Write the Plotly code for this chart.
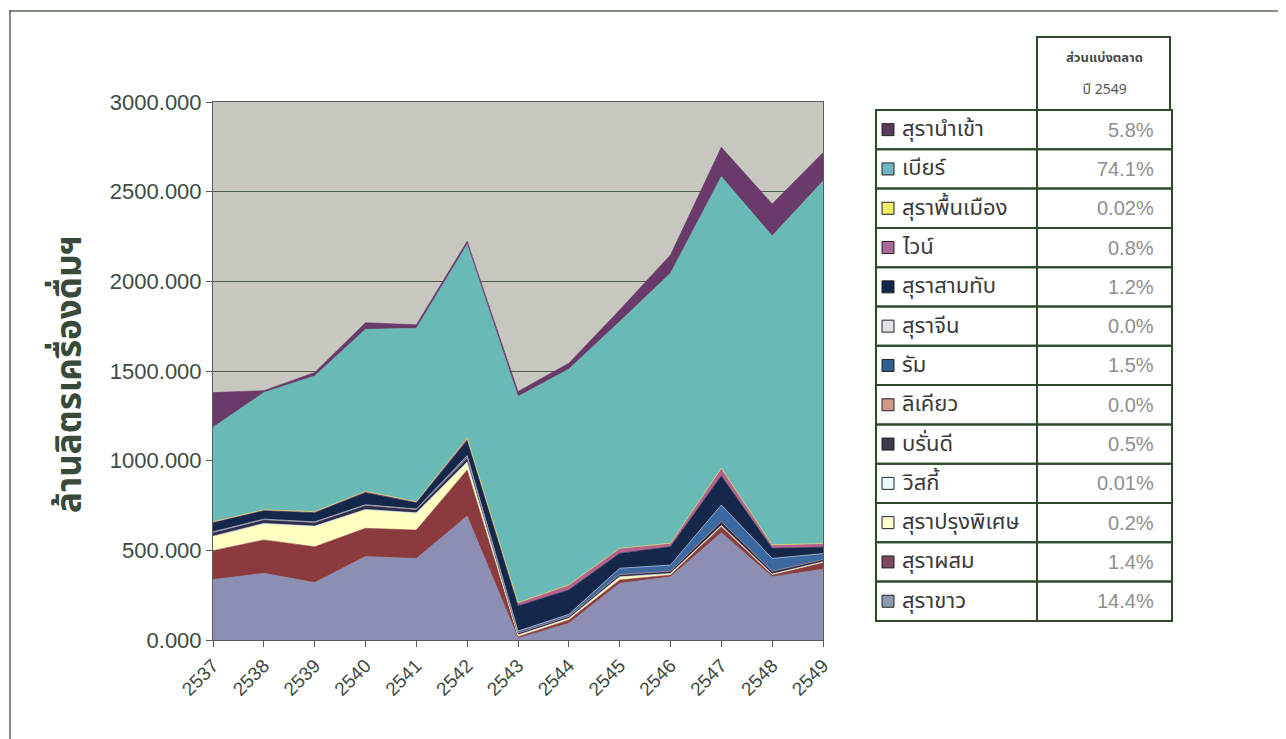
import plotly.graph_objects as go

years = [2537, 2538, 2539, 2540, 2541, 2542, 2543, 2544, 2545, 2546, 2547, 2548, 2549]

# stacked bottom -> top
series_names = ["สุราขาว", "สุราผสม", "สุราปรุงพิเศษ", "วิสกี้", "บรั่นดี", "ลิเคียว",
                "รัม", "สุราจีน", "สุราสามทับ", "ไวน์", "สุราพื้นเมือง", "เบียร์", "สุรานำเข้า"]

white_spirit = [338, 372, 320, 465, 455, 691, 10, 93, 316, 353, 598, 353, 395]
mixed_spirit = [160, 186, 200, 158, 158, 257, 8, 19, 19, 9, 34, 9, 36]
special_spirit = [78, 89, 112, 102, 93, 37, 8, 7, 15, 8, 6, 5, 5]
whisky = [3, 3, 3, 3, 3, 8, 2, 2, 2, 1, 1, 1, 0.3]
brandy = [20, 20, 20, 22, 18, 20, 10, 10, 12, 12, 20, 14, 12]
liqueur = [1, 1, 1, 1, 1, 2, 1, 1, 1, 1, 2, 1, 0.5]
rum = [3, 3, 3, 3, 3, 10, 10, 10, 35, 34, 92, 72, 33]
chinese = [0, 0, 0, 0, 0, 3, 1, 1, 0, 0, 0, 0, 0]
triple = [51, 47, 51, 67, 35, 84, 140, 136, 83, 102, 162, 56, 36]
wine = [5, 5, 5, 8, 5, 15, 18, 28, 28, 19, 42, 19, 20]
local_spirit = [0.5, 0.5, 0.5, 0.5, 0.5, 0.5, 0.5, 0.5, 0.5, 0.5, 2, 0.5, 0.5]
beer = [527, 653, 757, 903, 967, 1078, 1149, 1203, 1264, 1506, 1625, 1723, 2021]
imported = [193, 11, 19, 37, 19, 18, 28, 33, 65, 102, 163, 178, 158]

series_values = [white_spirit, mixed_spirit, special_spirit, whisky, brandy, liqueur,
                 rum, chinese, triple, wine, local_spirit, beer, imported]

series_colors = ["#8c8fb3", "#8b3b3d", "#ffffc2", "#e4f6f6", "#2e2e4c", "#d39484",
                 "#3c69a2", "#dcdce4", "#13284b", "#b4628f", "#eeee5a", "#69b9b6", "#6a3a6a"]

swatch_colors = ["#8c9ab0", "#7a4a60", "#ffffd0", "#e8fafa", "#3a3a4a", "#d09a88",
                 "#2f6090", "#e0e0e6", "#10284a", "#a86a9a", "#eeee66", "#6fb8c8", "#5a3a5a"]

share_2549 = ["14.4%", "1.4%", "0.2%", "0.01%", "0.5%", "0.0%", "1.5%", "0.0%",
              "1.2%", "0.8%", "0.02%", "74.1%", "5.8%"]

y_ticks = [0, 500, 1000, 1500, 2000, 2500, 3000]
y_title = "ล้านลิตรเครื่องดื่มฯ"
table_header = ["ส่วนแบ่งตลาด", "ปี 2549"]

OFF = 8  # page body margin
W, H = 1286 - OFF, 739 - OFF
PL, PR, PT, PB = 213 - OFF, 823 - OFF, 102 - OFF, 640 - OFF


def px(x):
    return (x - OFF - PL) / (PR - PL)


def py(y):
    return (PB - (y - OFF)) / (PB - PT)


fig = go.Figure()
for name, vals, col in zip(series_names, series_values, series_colors):
    fig.add_trace(go.Scatter(
        x=years, y=vals, name=name, stackgroup="one", mode="lines",
        line=dict(width=0.6, color=col), fillcolor=col, showlegend=False,
    ))

thai_font = "Noto Sans Thai, Noto Sans, DejaVu Sans, Liberation Sans, sans-serif"
axis_font = dict(family="Liberation Sans, Arial, sans-serif", size=22, color="#3e4a3e")

fig.update_layout(
    width=W, height=H,
    margin=dict(l=PL, r=W - PR, t=PT, b=H - PB),
    paper_bgcolor="white",
    plot_bgcolor="#c7c7bf",
    xaxis=dict(
        range=[years[0], years[-1]], tickmode="array", tickvals=years,
        ticktext=[str(y) for y in years], tickangle=-45,
        tickfont=dict(family="Liberation Sans, Arial, sans-serif", size=19, color="#3e4a3e"),
        showgrid=False, showline=True, linecolor="#5a5a5a", linewidth=1, mirror=True,
        ticks="outside", ticklen=6, tickcolor="#5a5a5a", zeroline=False,
    ),
    yaxis=dict(
        range=[0, 3000], tickmode="array", tickvals=y_ticks,
        ticktext=[f"{v:.3f}" for v in y_ticks],
        tickfont=axis_font,
        showgrid=True, gridcolor="#4f5a4f", gridwidth=1,
        showline=True, linecolor="#5a5a5a", linewidth=1, mirror=True,
        ticks="outside", ticklen=6, tickcolor="#5a5a5a", zeroline=False,
    ),
)

shapes = []
annotations = []

# outer frame lines (top and left)
shapes.append(dict(type="line", xref="paper", yref="paper", x0=px(9), x1=px(1300),
                   y0=py(11), y1=py(11), line=dict(color="#5a6a55", width=1.5)))
shapes.append(dict(type="line", xref="paper", yref="paper", x0=px(10), x1=px(10),
                   y0=py(10), y1=py(760), line=dict(color="#5a6a55", width=1.5)))

# y-axis title
annotations.append(dict(
    text=f"<b>{y_title}</b>", xref="paper", yref="paper", x=px(70), y=py(374),
    textangle=-90, showarrow=False, xanchor="center", yanchor="middle",
    font=dict(family=thai_font, size=35, color="#3a4a3a"),
))

# table
border = dict(color="#2d4a2d", width=2)
col0, col1, col2 = 876, 1037, 1172
row_top, row_h = 110, 39.3
n = len(series_names)
hx = (col1 + col2) / 2
# header cell
shapes.append(dict(type="rect", xref="paper", yref="paper", x0=px(col1), x1=px(col2 - 2),
                   y0=py(37), y1=py(row_top), line=border, fillcolor="rgba(0,0,0,0)"))
annotations.append(dict(text=f"<b>{table_header[0]}</b>", xref="paper", yref="paper",
                        x=px(hx), y=py(58), xanchor="center", yanchor="middle",
                        showarrow=False,
                        font=dict(family=thai_font, size=13, color="#4a4a4a")))
annotations.append(dict(text=table_header[1], xref="paper", yref="paper",
                        x=px(hx), y=py(90), xanchor="center", yanchor="middle",
                        showarrow=False,
                        font=dict(family=thai_font, size=14, color="#555555")))

for i in range(n):
    idx = n - 1 - i  # table lists top-of-stack first
    y0 = row_top + i * row_h
    y1 = y0 + row_h
    ym = (y0 + y1) / 2
    shapes.append(dict(type="rect", xref="paper", yref="paper", x0=px(col0), x1=px(col1),
                       y0=py(y0), y1=py(y1), line=border, fillcolor="rgba(0,0,0,0)"))
    shapes.append(dict(type="rect", xref="paper", yref="paper", x0=px(col1), x1=px(col2),
                       y0=py(y0), y1=py(y1), line=border, fillcolor="rgba(0,0,0,0)"))
    shapes.append(dict(type="rect", xref="paper", yref="paper", x0=px(882), x1=px(894),
                       y0=py(ym - 6), y1=py(ym + 6), line=dict(color="#222222", width=1),
                       fillcolor=swatch_colors[idx]))
    annotations.append(dict(text=series_names[idx], xref="paper", yref="paper",
                            x=px(900), y=py(ym), xanchor="left", yanchor="middle",
                            showarrow=False,
                            font=dict(family=thai_font, size=22, color="#3a3a3a")))
    annotations.append(dict(text=share_2549[idx], xref="paper", yref="paper",
                            x=px(1156), y=py(ym), xanchor="right", yanchor="middle",
                            showarrow=False,
                            font=dict(family="Liberation Sans, Arial, sans-serif", size=20,
                                      color="#8e8e8e")))

fig.update_layout(shapes=shapes, annotations=annotations)
fig.write_html("out.html")
